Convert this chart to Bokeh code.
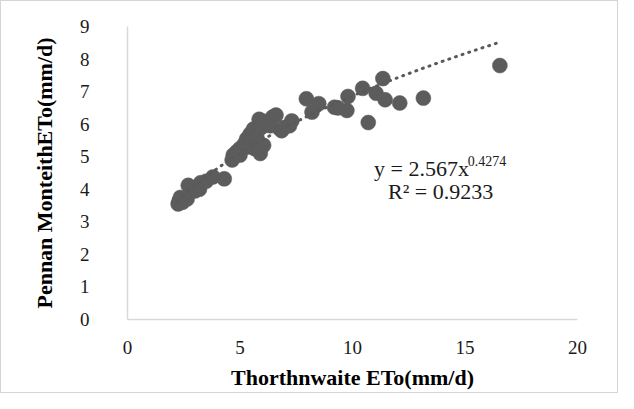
import numpy as np
from bokeh.plotting import figure
from bokeh.models import Range1d, FixedTicker, Label, ColumnDataSource
from bokeh.embed import file_html
from bokeh.resources import INLINE

# Data
thornthwaite = [2.25, 2.3, 2.35, 2.45, 2.65, 2.7, 3.0, 3.2, 3.25, 3.5, 3.8, 4.3,
                4.65, 4.7, 4.85, 5.0, 5.0, 5.2, 5.3, 5.35, 5.45, 5.5, 5.6, 5.65,
                5.75, 5.85, 5.9, 5.95, 6.05, 6.0,
                6.45, 6.6, 6.35, 6.85, 6.95, 7.3, 7.2,
                7.95, 8.2, 8.5, 9.2, 9.35, 9.75, 9.8, 10.45, 10.7, 11.05, 11.35,
                11.45, 12.1, 13.15, 16.55]
penman = [3.55, 3.65, 3.75, 3.6, 3.7, 4.12, 3.95, 4.0, 4.2, 4.25, 4.38, 4.32,
          4.9, 5.05, 5.15, 5.25, 5.05, 5.4, 5.55, 5.3, 5.7, 5.5, 5.85, 5.25,
          5.6, 6.15, 5.1, 5.9, 5.35, 6.1,
          6.22, 6.28, 5.95, 5.8, 5.9, 6.1, 5.95,
          6.78, 6.37, 6.63, 6.52, 6.5, 6.42, 6.85, 7.1, 6.05, 6.95, 7.4,
          6.75, 6.65, 6.8, 7.8]
fit_a = 2.567
fit_b = 0.4274
x_ticks = [0, 5, 10, 15, 20]
y_ticks = [0, 1, 2, 3, 4, 5, 6, 7, 8, 9]

W, H = 618, 393
p = figure(width=W, height=H, output_backend="svg", toolbar_location=None,
           x_range=Range1d(0, 20), y_range=Range1d(0, 9),
           min_border_left=126, min_border_right=42, min_border_top=25,
           min_border_bottom=75)
p.styles = {"border": "1px solid #d4d4d4", "box-sizing": "border-box"}
p.outline_line_color = None
p.background_fill_color = "white"
p.border_fill_color = "white"
p.xgrid.visible = False
p.ygrid.visible = False

src = ColumnDataSource(dict(x=thornthwaite, y=penman))
p.scatter("x", "y", source=src, size=15, fill_color="#5c5c5c",
          line_color="#5c5c5c", line_width=0.5)

tx = np.linspace(min(thornthwaite), max(thornthwaite), 200)
ty = fit_a * tx ** fit_b
p.line(tx, ty, line_color="#595959", line_width=3, line_dash="1 6",
       line_cap="round")

for ax, ticks in ((p.xaxis[0], x_ticks), (p.yaxis[0], y_ticks)):
    ax.ticker = FixedTicker(ticks=ticks)
    ax.axis_line_color = "#d9d9d9"
    ax.axis_line_width = 1.5
    ax.major_tick_line_color = None
    ax.minor_tick_line_color = None
    ax.major_label_text_font = "Liberation Serif"
    ax.major_label_text_font_size = "19px"
    ax.major_label_text_color = "#1a1a1a"
    ax.axis_label_text_font = "Liberation Serif"
    ax.axis_label_text_font_size = "22px"
    ax.axis_label_text_font_style = "bold"
    ax.axis_label_text_color = "#000000"

p.xaxis.axis_label = "Thorthnwaite ETo(mm/d)"
p.yaxis.axis_label = "Pennan MonteithETo(mm/d)"
p.xaxis.major_label_standoff = 15
p.xaxis.axis_label_standoff = 8
p.yaxis.major_label_standoff = 32
p.yaxis.axis_label_standoff = 20

common = dict(text_font="Liberation Serif", text_color="#1a1a1a",
              text_baseline="alphabetic")
p.add_layout(Label(x=10.96, y=4.63, text="y = 2.567x", text_font_size="22px",
                   **common))
p.add_layout(Label(x=15.12, y=4.87, text="0.4274", text_font_size="14px",
                   **common))
p.add_layout(Label(x=11.58, y=3.93, text="R² = 0.9233", text_font_size="22px",
                   **common))

open("out.html", "w").write(file_html(p, INLINE))
